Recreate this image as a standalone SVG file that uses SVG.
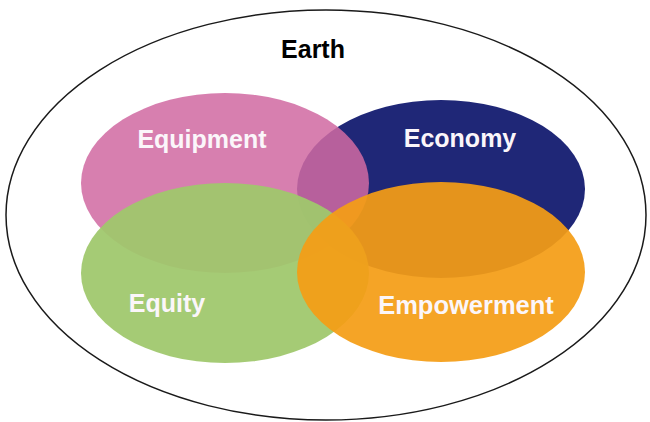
<svg xmlns="http://www.w3.org/2000/svg" width="650" height="422" viewBox="0 0 650 422">
<style>
text{font-family:"Liberation Sans",Arial,sans-serif;font-weight:bold;font-size:25px;text-anchor:middle}
.lbl{fill:#fbf6fa}
</style>
<rect width="650" height="422" fill="#ffffff"/>
<g id="earth">
<ellipse cx="326" cy="215" rx="320" ry="205" fill="none" stroke="#1a1a1a" stroke-width="1.5"/>
<text x="313" y="58" fill="#000">Earth</text>
</g>
<g id="economy">
<ellipse cx="441" cy="189" rx="144" ry="89" fill="#1f2777"/>
</g>
<g id="equipment">
<ellipse cx="225" cy="183" rx="144" ry="90" fill="#d06aa2" fill-opacity="0.86"/>
</g>
<g id="equity">
<ellipse cx="225" cy="273" rx="144" ry="90" fill="#9fc86c" fill-opacity="0.94"/>
</g>
<g id="empowerment">
<ellipse cx="441" cy="272" rx="144" ry="90" fill="#f49d16" fill-opacity="0.93"/>
</g>
<g id="labels">
<text class="lbl" x="202" y="148">Equipment</text>
<text class="lbl" x="460" y="147">Economy</text>
<text class="lbl" x="167" y="312">Equity</text>
<text class="lbl" x="466" y="314" style="font-size:25.5px">Empowerment</text>
</g>
<g id="connectors"></g>
</svg>
